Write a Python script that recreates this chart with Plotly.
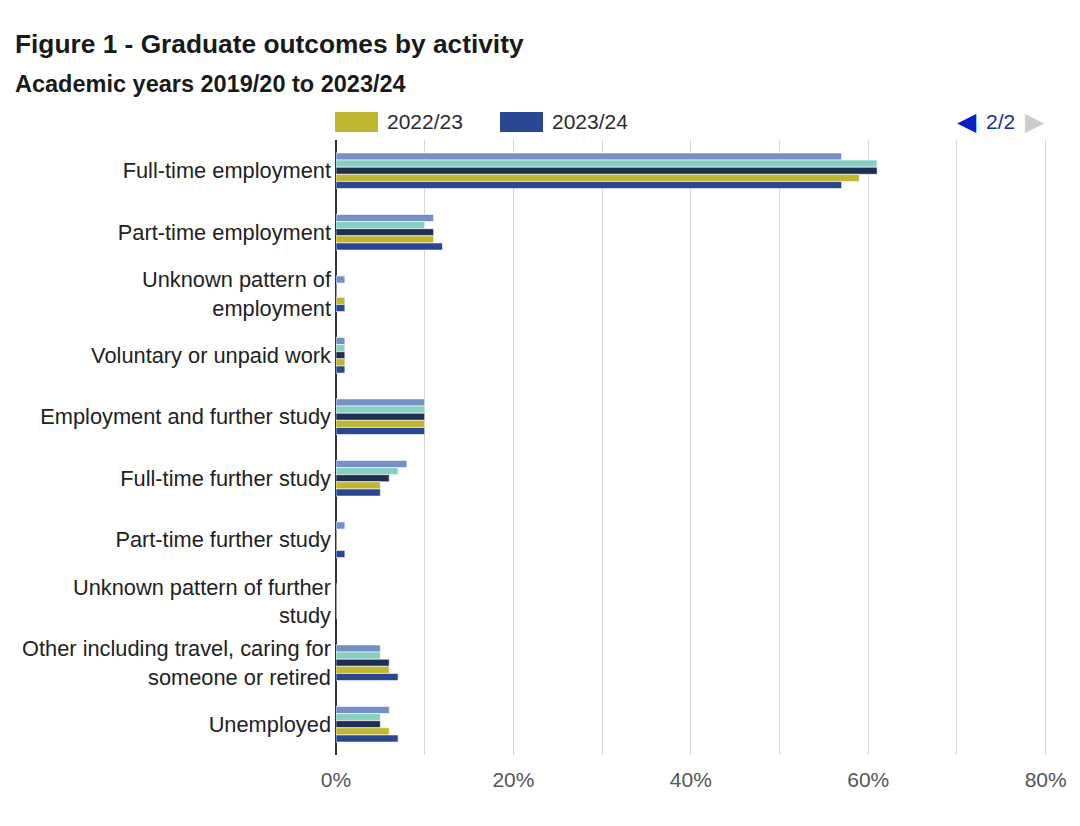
import plotly.graph_objects as go

categories = [
    "Full-time employment",
    "Part-time employment",
    "Unknown pattern of<br>employment",
    "Voluntary or unpaid work",
    "Employment and further study",
    "Full-time further study",
    "Part-time further study",
    "Unknown pattern of further<br>study",
    "Other including travel, caring for<br>someone or retired",
    "Unemployed",
]
series_names = ["2019/20", "2020/21", "2021/22", "2022/23", "2023/24"]
v_2019_20 = [57, 11, 1, 1, 10, 8, 1, 0, 5, 6]
v_2020_21 = [61, 10, 0, 1, 10, 7, 0, 0, 5, 5]
v_2021_22 = [61, 11, 0, 1, 10, 6, 0, 0, 6, 5]
v_2022_23 = [59, 11, 1, 1, 10, 5, 0, 0, 6, 6]
v_2023_24 = [57, 12, 1, 1, 10, 5, 1, 0, 7, 7]
series_values = [v_2019_20, v_2020_21, v_2021_22, v_2022_23, v_2023_24]
colors = ["#7490c4", "#86cfc4", "#1f2f52", "#bfb631", "#294891"]
x_ticks = [0, 20, 40, 60, 80]

FONT = "Liberation Sans, Arial, sans-serif"

fig = go.Figure()
for name, vals, col in zip(series_names, series_values, colors):
    fig.add_trace(go.Bar(
        y=categories, x=vals, name=name, orientation="h",
        marker=dict(color=col, line=dict(color="white", width=0.6)),
        showlegend=False,
    ))

fig.update_layout(
    width=1080, height=826,
    margin=dict(l=336, r=33, t=140, b=71),
    paper_bgcolor="white", plot_bgcolor="white",
    barmode="group", bargap=0.42, bargroupgap=0,
    font=dict(family=FONT, color="#333333"),
)
fig.update_yaxes(
    type="category", autorange="reversed",
    tickfont=dict(size=21.8, color="#222222", family=FONT),
    ticklabelstandoff=4, showgrid=False, ticks="",
)
fig.update_xaxes(
    range=[0, 80.15], tickvals=x_ticks, ticktext=[f"{v}%" for v in x_ticks],
    tickfont=dict(size=21, color="#555555", family=FONT),
    showgrid=True, gridcolor="#d6d6d6", gridwidth=1,
    minor=dict(dtick=10, showgrid=True, gridcolor="#d6d6d6", gridwidth=1),
    zeroline=True, zerolinecolor="#333333", zerolinewidth=2,
    ticks="", ticklabelstandoff=10,
)

pw, ph = 711.0, 615.0
def px_x(px):
    return (px - 336) / pw
def px_y(py):
    return (755 - py) / ph

# Titles
fig.add_annotation(text="<b>Figure 1 - Graduate outcomes by activity</b>",
                   xref="paper", yref="paper", x=px_x(13), y=px_y(44),
                   xanchor="left", yanchor="middle", showarrow=False,
                   font=dict(size=26.3, color="#1a1a1a", family=FONT))
fig.add_annotation(text="<b>Academic years 2019/20 to 2023/24</b>",
                   xref="paper", yref="paper", x=px_x(13), y=px_y(84),
                   xanchor="left", yanchor="middle", showarrow=False,
                   font=dict(size=23.5, color="#1a1a1a", family=FONT))

# Legend (page 2/2 of the paged legend)
for name, col, x0 in [(series_names[3], colors[3], 335), (series_names[4], colors[4], 500)]:
    fig.add_shape(type="rect", xref="paper", yref="paper",
                  x0=px_x(x0), x1=px_x(x0 + 43), y0=px_y(132), y1=px_y(112),
                  fillcolor=col, line=dict(width=0))
    fig.add_annotation(text=name, xref="paper", yref="paper",
                       x=px_x(x0 + 50), y=px_y(122), xanchor="left", yanchor="middle",
                       showarrow=False, font=dict(size=21, color="#2b2b2b", family=FONT))

fig.add_annotation(text="◀", xref="paper", yref="paper", x=px_x(979), y=px_y(122),
                   xanchor="right", yanchor="middle", showarrow=False,
                   font=dict(size=25, color="#0a1fc8", family="DejaVu Sans"))
fig.add_annotation(text="2/2", xref="paper", yref="paper", x=px_x(984), y=px_y(122),
                   xanchor="left", yanchor="middle", showarrow=False,
                   font=dict(size=21, color="#1a2aa8", family=FONT))
fig.add_annotation(text="▶", xref="paper", yref="paper", x=px_x(1023), y=px_y(122),
                   xanchor="left", yanchor="middle", showarrow=False,
                   font=dict(size=25, color="#cccccc", family="DejaVu Sans"))

fig.write_html("out.html")
